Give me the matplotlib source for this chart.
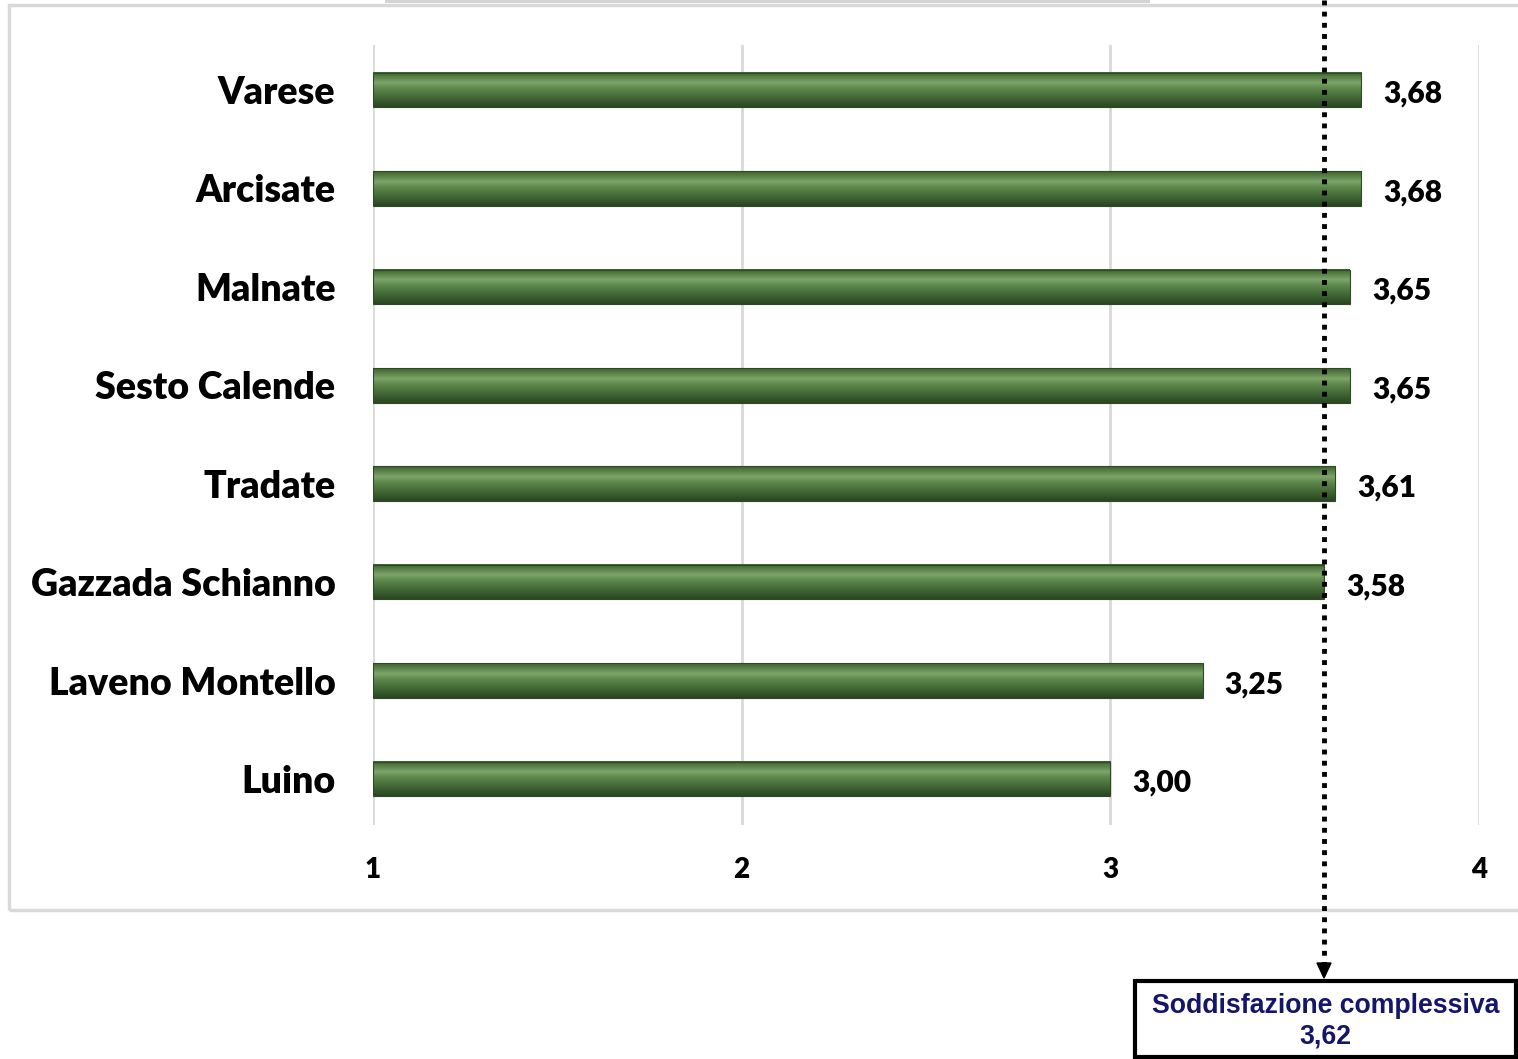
import matplotlib
matplotlib.use("Agg")
import matplotlib.pyplot as plt
import numpy as np
from matplotlib.colors import LinearSegmentedColormap
from matplotlib.patches import Rectangle

categories = ["Varese", "Arcisate", "Malnate", "Sesto Calende", "Tradate",
              "Gazzada Schianno", "Laveno Montello", "Luino"]
values = [3.68, 3.68, 3.65, 3.65, 3.61, 3.58, 3.25, 3.00]
value_labels = ["3,68", "3,68", "3,65", "3,65", "3,61", "3,58", "3,25", "3,00"]
xticks = [1, 2, 3, 4]
overall_label = "Soddisfazione complessiva\n3,62"

W, H = 1518, 1059
fig = plt.figure(figsize=(W / 100, H / 100), dpi=100)
fig.patch.set_facecolor("white")

# chart frame
fig.add_artist(Rectangle((9 / W, 1 - 910 / H), (W + 20) / W, (910 - 5) / H,
                         transform=fig.transFigure, fill=False, edgecolor="#d9d9d9",
                         linewidth=2.5, zorder=0))
fig.add_artist(Rectangle((385 / W, 1 - 3 / H), (1150 - 385) / W, 3 / H,
                         transform=fig.transFigure, facecolor="#d4d4d4",
                         edgecolor="none", zorder=0))

ax = fig.add_axes([373 / W, 1 - 825 / H, (1479 - 373) / W, (825 - 45) / H])
ax.set_xlim(1, 4)
ax.set_ylim(7.467, -0.457)

ypos = np.arange(len(categories))
bh = 0.35

cmap = LinearSegmentedColormap.from_list("g", [
    (0.0, "#3f6330"), (0.12, "#557d44"), (0.3, "#7ea56b"), (0.45, "#5f8a4d"),
    (0.7, "#456b36"), (0.9, "#33532a"), (1.0, "#2a4522")])
grad = np.linspace(0, 1, 64).reshape(-1, 1)

for y, v in zip(ypos, values):
    ax.imshow(grad, cmap=cmap, aspect="auto",
              extent=(1, v, y + bh / 2, y - bh / 2), zorder=3,
              interpolation="bicubic")
    ax.barh(y, v - 1, left=1, height=bh, color="none",
            edgecolor="#2e4a24", linewidth=0.8, zorder=4)

for y, v, lab in zip(ypos, values, value_labels):
    ax.text(v + 0.06, y + 0.04, lab, va="center", ha="left",
            fontsize=21.5, fontweight="heavy", family="Lato", color="black")

ax.set_yticks(ypos)
ax.set_yticklabels(categories, fontsize=27, fontweight="heavy", family="Lato")
ax.set_xticks(xticks)
ax.set_xticklabels([str(t) for t in xticks], fontsize=20, fontweight="heavy",
                   family="Lato")
ax.tick_params(axis="both", length=0)
ax.tick_params(axis="y", pad=27)
ax.tick_params(axis="x", pad=23)
for s in ax.spines.values():
    s.set_visible(False)
ax.grid(axis="x", color="#d9d9d9", linewidth=2, zorder=0)
ax.set_axisbelow(True)

xl = 1324 / W
fig.add_artist(plt.Line2D([xl, xl], [1.0, 1 - 965 / H], transform=fig.transFigure,
                          color="black", linewidth=3.5, linestyle=(0, (1, 1.3)),
                          zorder=10))
fig.add_artist(plt.Polygon([[xl - 7 / W, 1 - 963 / H], [xl + 7 / W, 1 - 963 / H],
                            [xl, 1 - 978 / H]], closed=True,
                           transform=fig.transFigure, color="black", zorder=10))
fig.add_artist(Rectangle((1135 / W, 1 - 1057 / H), (1516 - 1135) / W, (1057 - 981) / H,
                         transform=fig.transFigure, facecolor="white",
                         edgecolor="black", linewidth=3, zorder=10))
fig.text((1135 + 1516) / 2 / W, 1 - 1021 / H, overall_label, ha="center",
         va="center", fontsize=19.2, fontweight="bold", family="Liberation Sans",
         color="#15156a", linespacing=1.2, zorder=11)

fig.savefig("out.png", dpi=100, facecolor="white")
